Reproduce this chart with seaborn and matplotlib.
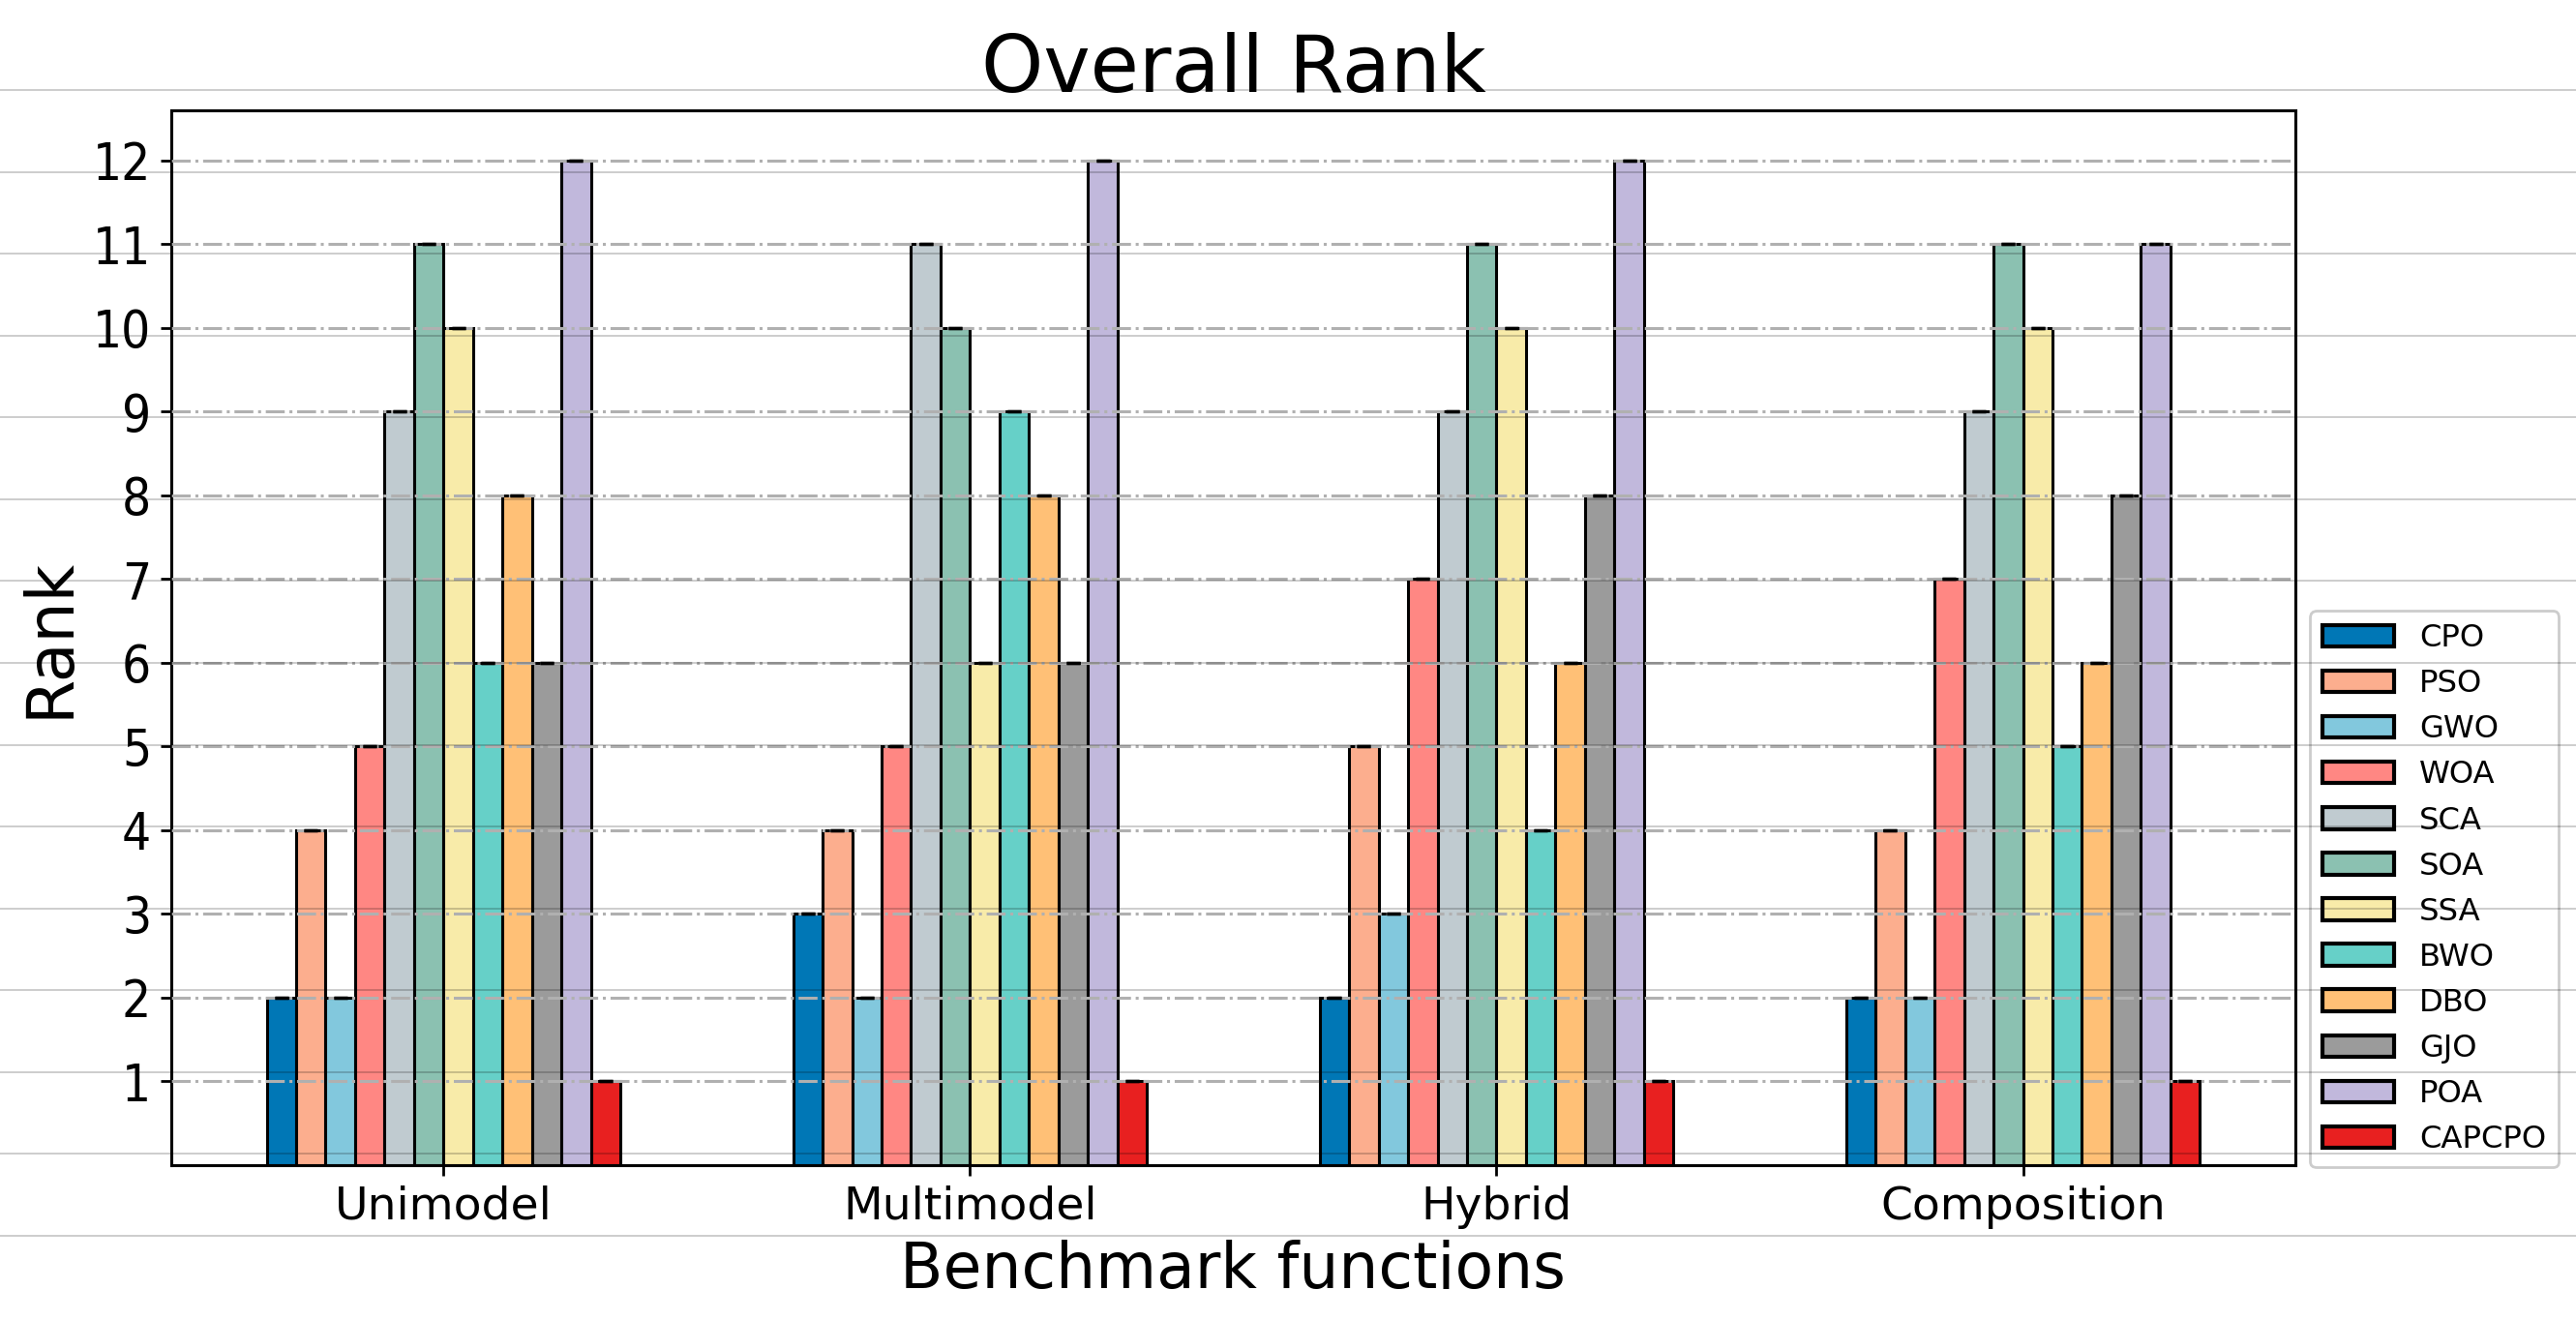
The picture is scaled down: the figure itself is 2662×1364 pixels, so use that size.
import numpy as np
import pandas as pd
import seaborn as sns
import matplotlib.pyplot as plt

# ranks per benchmark category
categories = ["Unimodel", "Multimodel", "Hybrid", "Composition"]
algorithms = ["CPO", "PSO", "GWO", "WOA", "SCA", "SOA", "SSA", "BWO", "DBO", "GJO", "POA", "CAPCPO"]
rank_unimodel = [2, 4, 2, 5, 9, 11, 10, 6, 8, 6, 12, 1]
rank_multimodel = [3, 4, 2, 5, 11, 10, 6, 9, 8, 6, 12, 1]
rank_hybrid = [2, 5, 3, 7, 9, 11, 10, 4, 6, 8, 12, 1]
rank_composition = [2, 4, 2, 7, 9, 11, 10, 5, 6, 8, 11, 1]
yticks = list(range(1, 13))

colors = ["#0077b6", "#fcae8e", "#82c8dd", "#ff8783", "#c0cbd0", "#8bc1b1",
          "#f8eba9", "#66d0c8", "#ffc076", "#9b9b9b", "#c1b8dc", "#e82020"]

rows = []
for cat, ranks in zip(categories, [rank_unimodel, rank_multimodel, rank_hybrid, rank_composition]):
    for alg, r in zip(algorithms, ranks):
        rows.append({"Category": cat, "Algorithm": alg, "Rank": r})
df = pd.DataFrame(rows)

sns.set_theme(style="ticks")
plt.rcParams["font.family"] = ["DejaVu Sans"]
plt.rcParams["axes.edgecolor"] = "black"
plt.rcParams["text.color"] = "black"
plt.rcParams["axes.labelcolor"] = "black"
plt.rcParams["xtick.color"] = "black"
plt.rcParams["ytick.color"] = "black"

fig = plt.figure(figsize=(13.31, 6.82), dpi=200)
ax = fig.add_axes([0.0665, 0.1173, 0.8245, 0.7991])

sns.barplot(data=df, x="Category", y="Rank", hue="Algorithm", hue_order=algorithms,
            palette=colors, saturation=1, width=0.672, gap=0, edgecolor="black",
            linewidth=1.1, errorbar=None, ax=ax, legend=True)

# zero-length error caps at each bar top
for p in ax.patches:
    h = p.get_height()
    if h > 0:
        ax.errorbar(p.get_x() + p.get_width() / 2, h, yerr=0, color="black",
                    capsize=2.5, capthick=1.2, elinewidth=1.0, zorder=3)

ax.set_xlim(-0.517, 3.517)
ax.set_ylim(0, 12.6)
ax.set_yticks(yticks)
ax.set_axisbelow(False)
ax.grid(axis="y", linestyle="-.", color="#b0b0b0", linewidth=1.1)
for s in ax.spines.values():
    s.set_visible(True)
    s.set_linewidth(1.1)
    s.set_color("black")
ax.tick_params(axis="x", labelsize=17, length=4, width=1)
ax.tick_params(axis="y", length=4, width=1)
for lab in ax.get_yticklabels():
    lab.set_fontsize(19)
    lab.set_fontstretch("condensed")

ax.set_title("Overall Rank", fontsize=29.4, pad=7)
ax.set_xlabel("Benchmark functions", fontsize=23.3)
ax.set_ylabel("Rank", fontsize=24)

handles, labels = ax.get_legend_handles_labels()
leg = ax.legend(handles[:len(algorithms)], labels[:len(algorithms)], loc="lower left",
                bbox_to_anchor=(1.007, -0.002), borderaxespad=0, fontsize=11.6,
                handlelength=2.3, frameon=True, fancybox=True, edgecolor="#cccccc",
                framealpha=1)
for h in leg.legend_handles:
    h.set_linewidth(1.5)

# faint full-figure horizontal rules drawn on top of everything
bg = fig.add_axes([0, 0, 1, 1], zorder=10)
bg.patch.set_alpha(0)
for s in bg.spines.values():
    s.set_visible(False)
bg.set_xticks([])
bg.set_yticks(np.arange(15))
bg.set_ylim(-1.03, 15.1)
bg.tick_params(left=False, labelleft=False)
bg.grid(axis="y", color="black", alpha=0.25, linewidth=0.55)

fig.savefig("out.png", dpi=200)
